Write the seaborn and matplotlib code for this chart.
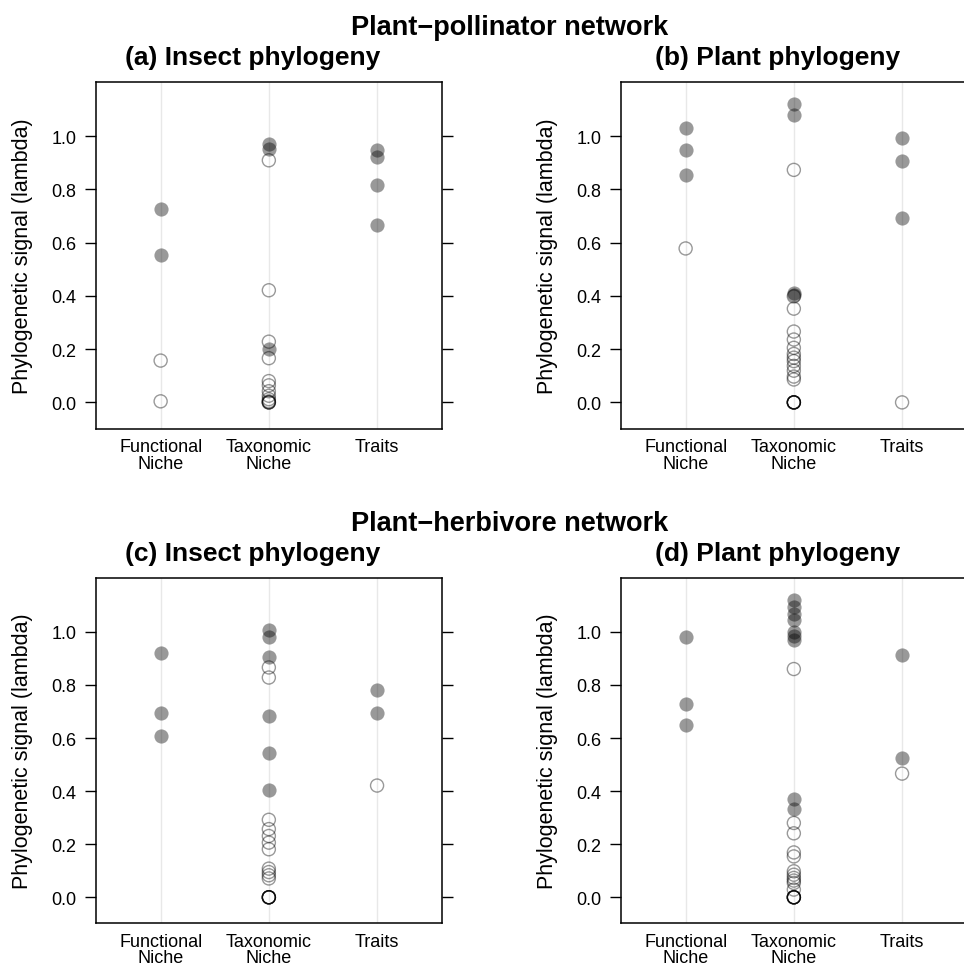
import matplotlib
matplotlib.use("Agg")
import matplotlib.pyplot as plt
import numpy as np
import pandas as pd
import seaborn as sns

# ==================== DATA ====================
CATEGORIES = ["Functional\nNiche", "Taxonomic\nNiche", "Traits"]

# (a) plant-pollinator, insect phylogeny
a_func_sig = [0.726, 0.553]
a_func_ns = [0.157, 0.004]
a_tax_sig = [0.971, 0.951, 0.201]
a_tax_ns = [0.909, 0.421, 0.228, 0.166, 0.080, 0.064, 0.042, 0.025, 0.012, 0.004, 0.0, 0.0, 0.0]
a_trait_sig = [0.947, 0.922, 0.817, 0.665]
a_trait_ns = []

# (b) plant-pollinator, plant phylogeny
b_func_sig = [1.029, 0.946, 0.855]
b_func_ns = [0.578]
b_tax_sig = [1.122, 1.080, 0.412, 0.405]
b_tax_ns = [0.873, 0.398, 0.352, 0.266, 0.236, 0.205, 0.182, 0.168, 0.155, 0.137,
            0.119, 0.097, 0.086, 0.0, 0.0, 0.0, 0.0, 0.0, 0.0]
b_trait_sig = [0.994, 0.905, 0.693]
b_trait_ns = [0.0]

# (c) plant-herbivore, insect phylogeny
c_func_sig = [0.919, 0.693, 0.609]
c_func_ns = []
c_tax_sig = [1.007, 0.981, 0.906, 0.682, 0.543, 0.405]
c_tax_ns = [0.866, 0.828, 0.292, 0.257, 0.231, 0.206, 0.181, 0.108, 0.095, 0.083,
            0.071, 0.0, 0.0, 0.0, 0.0, 0.0, 0.0]
c_trait_sig = [0.782, 0.695]
c_trait_ns = [0.421]

# (d) plant-herbivore, plant phylogeny
d_func_sig = [0.979, 0.728, 0.649]
d_func_ns = []
d_tax_sig = [1.120, 1.094, 1.069, 1.045, 1.000, 0.985, 0.968, 0.372, 0.332]
d_tax_ns = [0.860, 0.280, 0.241, 0.169, 0.154, 0.098, 0.085, 0.073, 0.063, 0.054,
            0.029, 0.0, 0.0, 0.0, 0.0, 0.0, 0.0]
d_trait_sig = [0.912, 0.526]
d_trait_ns = [0.466]

PANEL_TITLES = ["(a) Insect phylogeny", "(b) Plant phylogeny",
                "(c) Insect phylogeny", "(d) Plant phylogeny"]
ROW_TITLES = ["Plant\u2212pollinator network", "Plant\u2212herbivore network"]
Y_LABEL = "Phylogenetic signal (lambda)"
Y_TICKS = [0.0, 0.2, 0.4, 0.6, 0.8, 1.0]


def to_long(func, tax, trait):
    rows = []
    for cat, vals in zip(CATEGORIES, [func, tax, trait]):
        rows += [(cat, v) for v in vals]
    return pd.DataFrame(rows, columns=["metric", "lambda"])


PANELS = [
    (to_long(a_func_sig, a_tax_sig, a_trait_sig), to_long(a_func_ns, a_tax_ns, a_trait_ns)),
    (to_long(b_func_sig, b_tax_sig, b_trait_sig), to_long(b_func_ns, b_tax_ns, b_trait_ns)),
    (to_long(c_func_sig, c_tax_sig, c_trait_sig), to_long(c_func_ns, c_tax_ns, c_trait_ns)),
    (to_long(d_func_sig, d_tax_sig, d_trait_sig), to_long(d_func_ns, d_tax_ns, d_trait_ns)),
]

# ==================== STYLE ====================
sns.set_style("white")
plt.rcParams["font.family"] = ["Liberation Sans", "DejaVu Sans"]
plt.rcParams["text.color"] = "black"
plt.rcParams["axes.labelcolor"] = "black"

W, H = 964, 970
fig = plt.figure(figsize=(W / 100, H / 100), dpi=100)

# panel boxes in pixels: left, top, right, bottom
boxes = [(95.7, 83, 442, 429.5), (620.7, 83, 967, 429.5),
         (95.7, 579, 442, 924.3), (620.7, 579, 967, 924.3)]

for i, ((df_sig, df_ns), (l, t, r, b)) in enumerate(zip(PANELS, boxes)):
    ax = fig.add_axes([l / W, 1 - b / H, (r - l) / W, (b - t) / H])

    sns.stripplot(data=df_sig, x="metric", y="lambda", order=CATEGORIES, jitter=False,
                  color="black", alpha=0.4, size=10.2, linewidth=0, ax=ax)
    n0 = len(ax.collections)
    sns.stripplot(data=df_ns, x="metric", y="lambda", order=CATEGORIES, jitter=False,
                  color="black", alpha=0.4, size=9.4, linewidth=1.0,
                  edgecolor="black", ax=ax)
    for coll in ax.collections[n0:]:
        coll.set_facecolor("none")
        coll.set_edgecolor((0, 0, 0, 0.4))

    ax.set_xlim(-0.6, 2.6)
    ax.set_ylim(-0.098, 1.203)
    ax.set_yticks(Y_TICKS)
    ax.set_yticklabels([f"{v:.1f}" for v in Y_TICKS])
    ax.set_xticks(range(len(CATEGORIES)))
    ax.set_xticklabels(CATEGORIES, linespacing=0.95)
    ax.set_xlabel("")
    ax.set_ylabel(Y_LABEL, fontsize=15.5)
    ax.yaxis.set_label_coords(-0.181, 0.5)

    ax.grid(axis="x", color="#e8e8e8", lw=1)
    ax.grid(axis="y", visible=False)
    ax.set_axisbelow(True)
    for s in ax.spines.values():
        s.set_color("black")
        s.set_linewidth(1.1)
    ax.tick_params(axis="y", left=True, right=True, direction="out", length=7.7,
                   width=1.0, pad=6, labelsize=13, colors="black")
    ax.tick_params(axis="x", length=0, pad=7, labelsize=13, colors="black")

    cx = (l + r) / 2 - 16
    fig.text(cx / W, 1 - (t - 18) / H, PANEL_TITLES[i], ha="center", va="baseline",
             fontsize=19, fontweight="bold")

for row, t in enumerate([83, 579]):
    fig.text(510 / W, 1 - (t - 48) / H, ROW_TITLES[row], ha="center", va="baseline",
             fontsize=19.5, fontweight="bold")

fig.savefig("out.png", dpi=100)
